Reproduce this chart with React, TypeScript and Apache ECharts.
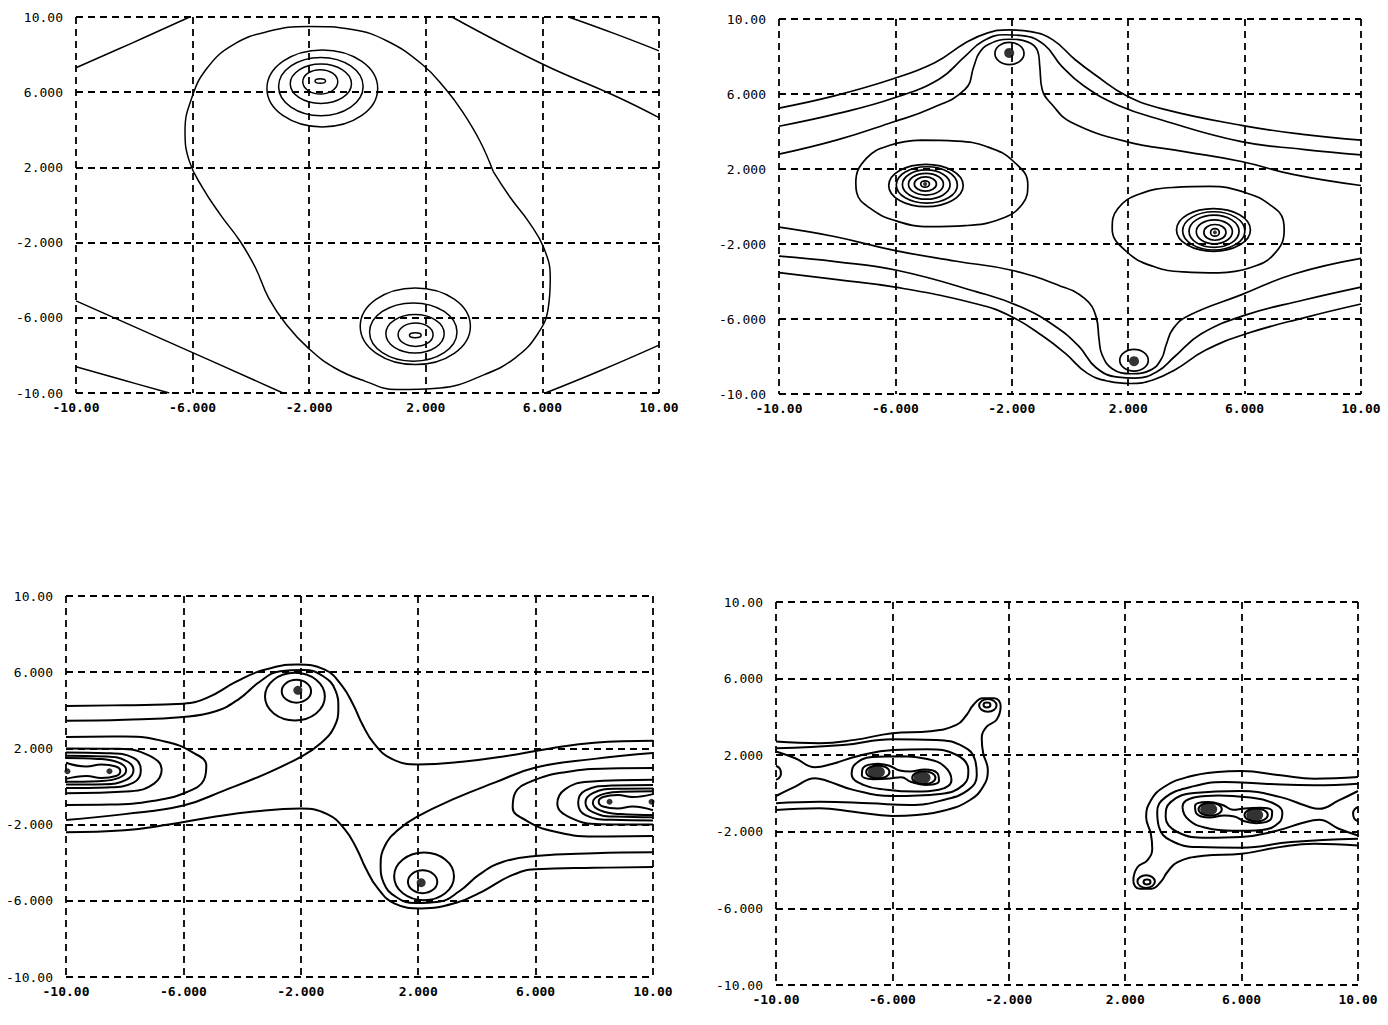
import React, { useEffect, useRef } from "react";
import * as echarts from "echarts";

// ---------- axis ticks ----------
const tickValues = [-10, -6, -2, 2, 6, 10];
const tickLabels = ["-10.00", "-6.000", "-2.000", "2.000", "6.000", "10.00"];

// ---------- panel 1 ----------
const p1TopLeft = [[-10, 7.3], [-8.1, 8.6], [-6.1, 10]];
const p1TopRightA = [[2.9, 10], [6, 7.5], [8.5, 5.8], [10, 4.65]];
const p1TopRightB = [[6.9, 10], [8.5, 9.1], [10, 8.2]];
const p1BottomLeftA = [[-10, -5.1], [-6, -7.85], [-2.9, -10]];
const p1BottomLeftB = [[-10, -8.6], [-8.3, -9.35], [-6.8, -10]];
const p1BottomRight = [[6.1, -10], [8, -8.8], [10, -7.45]];
const p1Peanut = [
  [4.31, 1.79], [4.91, 0.37], [5.52, -0.87], [6.05, -2.29], [6.27, -3.88], [6.2, -5.48],
  [5.82, -6.9], [5.06, -8.14], [4.01, -9.02], [2.5, -9.73], [0.99, -9.82], [-0.07, -9.38],
  [-1.12, -8.67], [-2.03, -7.61], [-2.78, -6.37], [-3.39, -4.95], [-3.84, -3.35], [-4.37, -1.93],
  [-5.05, -0.51], [-5.65, 0.9], [-6.11, 2.32], [-6.26, 3.92], [-6.03, 5.69], [-5.5, 7.29],
  [-4.6, 8.53], [-3.39, 9.24], [-2.03, 9.5], [-0.52, 9.33], [0.69, 8.71], [1.89, 7.46],
  [2.65, 6.22], [3.25, 4.98], [3.86, 3.39], [4.31, 1.79],
];
// rings: [cx, cy, rx, ry]
const p1Rings = [
  [-1.62, 6.6, 0.18, 0.12], [-1.62, 6.55, 0.6, 0.65], [-1.6, 6.45, 1.05, 1.05],
  [-1.6, 6.3, 1.45, 1.55], [-1.55, 6.2, 1.9, 2.05],
  [1.64, -6.93, 0.2, 0.13], [1.65, -6.9, 0.6, 0.62], [1.63, -6.85, 1.0, 1.02],
  [1.57, -6.76, 1.5, 1.55], [1.64, -6.45, 1.89, 2.04],
];

// ---------- panel 2 ----------
const p2TopA = [[-10, 5.25], [-8.1, 5.9], [-6.1, 6.8], [-4.65, 7.67], [-3.6, 8.72], [-2.85, 9.25], [-2.1, 9.42], [-1.35, 9.33], [-0.6, 8.9], [0.17, 7.84], [0.92, 6.96], [1.94, 5.91], [3.18, 5.21], [5.89, 4.33], [8, 3.85], [10, 3.54]];
const p2TopB = [[-10, 4.28], [-8, 4.95], [-6.08, 5.77], [-4.5, 6.79], [-3.6, 8.02], [-3.0, 8.81], [-2.24, 9.16], [-1.64, 9.11], [-0.89, 8.63], [-0.29, 7.49], [0.47, 6.44], [1.67, 5.39], [3.18, 4.6], [5.89, 3.46], [8, 3.05], [10, 2.75]];
const p2TopC = [[-10, 2.79], [-8, 3.55], [-6.08, 4.51], [-4.8, 5.21], [-3.6, 6.26], [-3.3, 7.49], [-3.12, 8.19], [-2.77, 8.67], [-2.09, 8.92], [-1.46, 8.78], [-1.11, 8.28], [-1.04, 7.49], [-0.96, 6.26], [-0.59, 5.39], [0.02, 4.51], [1.94, 3.46], [3.93, 2.93], [5.89, 2.4], [7.7, 1.7], [10, 1.12]];
const p2BottomA = [[-10, -1.1], [-8.1, -1.6], [-6, -2.35], [-3.9, -2.92], [-2, -3.4], [-0.4, -4.2], [0.5, -4.9], [0.9, -5.9], [1.0, -7.1], [1.1, -7.9], [1.45, -8.65], [2.1, -8.92], [2.8, -8.7], [3.15, -8.1], [3.3, -7.4], [3.55, -6.5], [4.1, -5.8], [5.9, -4.7], [7.7, -3.6], [10, -2.77]];
const p2BottomB = [[-10, -2.65], [-8, -2.95], [-5.95, -3.4], [-3.2, -4.55], [-1.7, -5.35], [-0.5, -6.4], [0.3, -7.45], [0.9, -8.6], [1.65, -9.1], [2.25, -9.15], [3.0, -8.8], [3.6, -8.0], [4.5, -6.8], [6.05, -5.78], [8, -5.0], [10, -4.3]];
const p2BottomC = [[-10, -3.53], [-8, -3.9], [-6, -4.3], [-3.2, -5.2], [-2, -5.88], [-0.9, -6.95], [-0.15, -7.85], [0.6, -8.9], [1.35, -9.33], [2.1, -9.44], [2.85, -9.25], [3.6, -8.72], [4.65, -7.67], [6.05, -6.79], [8.1, -5.91], [10, -5.2]];
const p2LeftOval = [[-5.11, 3.54], [-3.9, 3.49], [-2.85, 3.19], [-1.94, 2.4], [-1.45, 1.18], [-1.64, 0.12], [-2.39, -0.67], [-3.6, -1.02], [-4.8, -1.07], [-6.01, -0.75], [-6.91, -0.05], [-7.33, 0.74], [-7.36, 1.26], [-6.99, 2.58], [-6.16, 3.28], [-5.11, 3.54]];
const p2RightOval = [[5.11, -3.54], [3.9, -3.49], [2.85, -3.19], [1.94, -2.4], [1.45, -1.18], [1.64, -0.12], [2.39, 0.67], [3.6, 1.02], [4.8, 1.07], [6.01, 0.75], [6.91, 0.05], [7.33, -0.74], [7.36, -1.26], [6.99, -2.58], [6.16, -3.28], [5.11, -3.54]];
const p2Rings = [
  [-4.98, 1.2, 0.15, 0.17], [-4.97, 1.2, 0.38, 0.38], [-4.95, 1.19, 0.6, 0.58], [-4.94, 1.17, 0.82, 0.78], [-4.92, 1.15, 1.05, 0.97], [-4.95, 1.12, 1.28, 1.13],
  [4.98, -1.38, 0.15, 0.2], [4.98, -1.38, 0.38, 0.42], [4.96, -1.35, 0.62, 0.64], [4.95, -1.32, 0.86, 0.86], [4.94, -1.3, 1.07, 1.02], [4.93, -1.25, 1.27, 1.14],
  [-2.08, 8.16, 0.5, 0.59], [2.2, -8.2, 0.49, 0.58],
];
const p2BigDots = [[-2.09, 8.19], [2.2, -8.25]];
const p2SmallDots = [[-4.98, 1.2], [4.98, -1.38]];

// ---------- panel 3 ----------
const p3A = [[-10, 4.23], [-8, 4.27], [-6, 4.35], [-5.2, 4.65], [-4.2, 5.5], [-3.3, 6.1], [-2.1, 6.4], [-1.2, 6.15], [-0.6, 5.3], [-0.2, 4.25], [0.1, 3.25], [0.5, 2.25], [1.1, 1.45], [2.0, 1.16], [3.5, 1.3], [5, 1.6], [6.5, 2.0], [8, 2.3], [10, 2.4]];
const p3A2 = [[10, -4.23], [8, -4.27], [6, -4.35], [5.2, -4.65], [4.2, -5.5], [3.3, -6.1], [2.1, -6.4], [1.2, -6.15], [0.6, -5.3], [0.2, -4.25], [-0.1, -3.25], [-0.5, -2.25], [-1.1, -1.45], [-2.0, -1.16], [-3.5, -1.3], [-5, -1.6], [-6.5, -2.0], [-8, -2.3], [-10, -2.4]];
const p3B = [[-10, 3.45], [-8, 3.5], [-6, 3.65], [-4.9, 3.95], [-4.1, 4.6], [-3.4, 5.5], [-2.7, 6.05], [-1.9, 6.12], [-1.25, 5.8], [-0.82, 5.05], [-0.72, 4.1], [-0.87, 3.1], [-1.3, 2.3], [-1.95, 1.6], [-3.3, 0.6], [-4.6, -0.2], [-6, -1.0], [-8, -1.45], [-10, -1.76]];
const p3B2 = [[10, -3.45], [8, -3.5], [6, -3.65], [4.9, -3.95], [4.1, -4.6], [3.4, -5.5], [2.7, -6.05], [1.9, -6.12], [1.25, -5.8], [0.82, -5.05], [0.72, -4.1], [0.87, -3.1], [1.3, -2.3], [1.95, -1.6], [3.3, -0.6], [4.6, 0.2], [6, 1.0], [8, 1.45], [10, 1.76]];
const p3U1 = [[-10, 2.6], [-8, 2.62], [-6.6, 2.35], [-5.7, 1.8], [-5.22, 1.1], [-5.3, 0.35], [-5.9, -0.3], [-7, -0.75], [-8.5, -0.95], [-10, -0.97]];
const p3U2 = [[-10, 2.0], [-8.2, 1.98], [-7.2, 1.65], [-6.74, 0.9], [-7.0, 0.15], [-7.8, -0.25], [-10, -0.35]];
const p3U3 = [[-10, 1.78], [-8.6, 1.75], [-7.7, 1.5], [-7.45, 0.85], [-7.7, 0.2], [-8.6, -0.05], [-10, -0.08]];
const p3U4 = [[-10, 1.62], [-8.7, 1.58], [-7.95, 1.35], [-7.7, 0.85], [-7.95, 0.35], [-8.7, 0.12], [-10, 0.1]];
const p3U5 = [[-10, 1.5], [-8.9, 1.45], [-8.2, 1.25], [-7.95, 0.85], [-8.2, 0.45], [-8.9, 0.28], [-10, 0.25]];
const p3U6 = [[-10, 1.25], [-9.3, 1.05], [-8.8, 1.15], [-8.3, 1.05], [-8.15, 0.8], [-8.3, 0.55], [-8.8, 0.45], [-9.3, 0.55], [-10, 0.4]];
const p3V1 = [[10, -2.6], [8, -2.62], [6.6, -2.35], [5.7, -1.8], [5.22, -1.1], [5.3, -0.35], [5.9, 0.3], [7, 0.75], [8.5, 0.95], [10, 0.97]];
const p3V2 = [[10, -2.0], [8.2, -1.98], [7.2, -1.65], [6.74, -0.9], [7.0, -0.15], [7.8, 0.25], [10, 0.35]];
const p3V3 = [[10, -1.78], [8.6, -1.75], [7.7, -1.5], [7.45, -0.85], [7.7, -0.2], [8.6, 0.05], [10, 0.08]];
const p3V4 = [[10, -1.62], [8.7, -1.58], [7.95, -1.35], [7.7, -0.85], [7.95, -0.35], [8.7, -0.12], [10, -0.1]];
const p3V5 = [[10, -1.5], [8.9, -1.45], [8.2, -1.25], [7.95, -0.85], [8.2, -0.45], [8.9, -0.28], [10, -0.25]];
const p3V6 = [[10, -1.25], [9.3, -1.05], [8.8, -1.15], [8.3, -1.05], [8.15, -0.8], [8.3, -0.55], [8.8, -0.45], [9.3, -0.55], [10, -0.4]];
const p3Rings = [
  [-2.15, 5.0, 0.5, 0.6], [-2.2, 4.72, 1.02, 1.25],
  [2.15, -5.0, 0.5, 0.6], [2.2, -4.72, 1.02, 1.25],
];
const p3BigDots = [[-2.1, 5.05], [2.1, -5.05]];
const p3SmallDots = [[-8.52, 0.8], [-9.95, 0.8], [8.52, -0.8], [9.95, -0.8]];

// ---------- panel 4 ----------
const p4S = [[-10, 2.71], [-8.5, 2.62], [-7.3, 2.8], [-6, 3.15], [-4.7, 3.25], [-3.8, 3.58], [-3.45, 4.1], [-3.22, 4.62], [-2.9, 4.97], [-2.5, 4.98], [-2.28, 4.55], [-2.42, 3.85], [-2.76, 3.49], [-2.93, 2.88], [-2.88, 2.1], [-2.72, 1.23], [-2.88, 0.36], [-3.33, -0.34], [-4.14, -0.86], [-5.17, -1.12], [-6, -1.17], [-7.34, -0.95], [-8.5, -0.77], [-10, -0.86]];
const p4S2 = [[-10, 2.36], [-7.7, 2.53], [-6, 2.83], [-4.5, 2.8], [-3.56, 2.45], [-3.16, 1.75], [-3.1, 0.97], [-3.39, 0.19], [-4.25, -0.34], [-5.4, -0.6], [-6.77, -0.51], [-8.5, -0.43], [-10, -0.51]];
const p4F = [[-10, 2.19], [-9.34, 1.84], [-8.66, 1.37], [-8.08, 1.54], [-7.17, 1.96], [-5.97, 2.27], [-4.82, 2.31], [-3.79, 2.01], [-3.39, 1.23], [-3.56, 0.45], [-4.36, -0.02], [-5.97, -0.13], [-7.34, 0.19], [-8.26, 0.67], [-8.66, 0.8], [-9.34, 0.36], [-10, -0.13]];
const p4O = [[-5.7, 1.95], [-6.7, 1.9], [-7.3, 1.5], [-7.4, 1.0], [-7.0, 0.45], [-6.2, 0.2], [-5.2, 0.1], [-4.4, 0.2], [-3.97, 0.7], [-4.2, 1.4], [-4.8, 1.8], [-5.7, 1.95]];
const p4P = [[-6.5, 1.55], [-7.0, 1.35], [-7.05, 0.95], [-6.65, 0.75], [-6.1, 0.78], [-5.7, 0.85], [-5.35, 0.6], [-4.85, 0.45], [-4.4, 0.65], [-4.45, 1.05], [-4.9, 1.25], [-5.4, 1.15], [-5.75, 1.2], [-6.1, 1.45], [-6.5, 1.55]];
const p4E = [[-10, 1.45], [-9.87, 1.3], [-9.83, 1.02], [-9.9, 0.8], [-10, 0.72]];
const p4SR = [[10, -2.71], [8.5, -2.62], [7.3, -2.8], [6, -3.15], [4.7, -3.25], [3.8, -3.58], [3.45, -4.1], [3.22, -4.62], [2.9, -4.97], [2.5, -4.98], [2.28, -4.55], [2.42, -3.85], [2.76, -3.49], [2.93, -2.88], [2.88, -2.1], [2.72, -1.23], [2.88, -0.36], [3.33, 0.34], [4.14, 0.86], [5.17, 1.12], [6, 1.17], [7.34, 0.95], [8.5, 0.77], [10, 0.86]];
const p4S2R = [[10, -2.36], [7.7, -2.53], [6, -2.83], [4.5, -2.8], [3.56, -2.45], [3.16, -1.75], [3.1, -0.97], [3.39, -0.19], [4.25, 0.34], [5.4, 0.6], [6.77, 0.51], [8.5, 0.43], [10, 0.51]];
const p4FR = [[10, -2.19], [9.34, -1.84], [8.66, -1.37], [8.08, -1.54], [7.17, -1.96], [5.97, -2.27], [4.82, -2.31], [3.79, -2.01], [3.39, -1.23], [3.56, -0.45], [4.36, 0.02], [5.97, 0.13], [7.34, -0.19], [8.26, -0.67], [8.66, -0.8], [9.34, -0.36], [10, 0.13]];
const p4OR = [[5.7, -1.95], [6.7, -1.9], [7.3, -1.5], [7.4, -1.0], [7.0, -0.45], [6.2, -0.2], [5.2, -0.1], [4.4, -0.2], [3.97, -0.7], [4.2, -1.4], [4.8, -1.8], [5.7, -1.95]];
const p4PR = [[6.5, -1.55], [7.0, -1.35], [7.05, -0.95], [6.65, -0.75], [6.1, -0.78], [5.7, -0.85], [5.35, -0.6], [4.85, -0.45], [4.4, -0.65], [4.45, -1.05], [4.9, -1.25], [5.4, -1.15], [5.75, -1.2], [6.1, -1.45], [6.5, -1.55]];
const p4ER = [[10, -1.45], [9.87, -1.3], [9.83, -1.02], [9.9, -0.8], [10, -0.72]];
const p4Rings = [
  [-2.75, 4.62, 0.12, 0.13], [-2.72, 4.6, 0.3, 0.33],
  [2.75, -4.62, 0.12, 0.13], [2.72, -4.6, 0.3, 0.33],
  [-6.5, 1.12, 0.4, 0.34], [-4.92, 0.82, 0.4, 0.34],
  [6.5, -1.12, 0.4, 0.34], [4.92, -0.82, 0.4, 0.34],
];
const p4Blobs = [[-6.55, 1.12], [-4.98, 0.82], [6.45, -1.12], [4.87, -0.82]];

// ---------- layout ----------
const panelLayout = [
  { left: 76, top: 17, width: 583, height: 376 },
  { left: 779, top: 19, width: 582, height: 375 },
  { left: 66, top: 596, width: 587, height: 381 },
  { left: 776, top: 602, width: 582, height: 383 },
];

const FONT = '"DejaVu Sans Mono", "Liberation Mono", monospace';

export default function App() {
  const ref = useRef<HTMLDivElement>(null);

  useEffect(() => {
    if (!ref.current) return;
    const chart = echarts.init(ref.current, null, { renderer: "svg" });

    const panels = [
      {
        width: 1.5,
        lines: [p1TopLeft, p1TopRightA, p1TopRightB, p1BottomLeftA, p1BottomLeftB, p1BottomRight, p1Peanut],
        rings: p1Rings,
        dots: [] as { data: number[][]; size: any }[],
      },
      {
        width: 1.7,
        lines: [p2TopA, p2TopB, p2TopC, p2BottomA, p2BottomB, p2BottomC, p2LeftOval, p2RightOval],
        rings: p2Rings,
        dots: [
          { data: p2BigDots, size: 10 },
          { data: p2SmallDots, size: 4 },
        ],
      },
      {
        width: 2,
        lines: [p3A, p3A2, p3B, p3B2, p3U1, p3U2, p3U3, p3U4, p3U5, p3U6, p3V1, p3V2, p3V3, p3V4, p3V5, p3V6],
        rings: p3Rings,
        dots: [
          { data: p3BigDots, size: 9 },
          { data: p3SmallDots, size: 6 },
        ],
      },
      {
        width: 2,
        lines: [p4S, p4S2, p4F, p4O, p4P, p4E, p4SR, p4S2R, p4FR, p4OR, p4PR, p4ER],
        rings: p4Rings,
        dots: [{ data: p4Blobs, size: [17, 13] }],
      },
    ];

    const labelFor = (v: number) => {
      const i = tickValues.findIndex((t) => Math.abs(t - v) < 1e-6);
      return i >= 0 ? tickLabels[i] : "";
    };

    const gridLine = { show: true, lineStyle: { color: "#000", width: 1.8, type: [7, 5] as any } };

    const grid: any[] = [];
    const xAxis: any[] = [];
    const yAxis: any[] = [];
    const series: any[] = [];

    panels.forEach((p, i) => {
      grid.push({ ...panelLayout[i], containLabel: false });
      xAxis.push({
        gridIndex: i,
        type: "value",
        min: -10,
        max: 10,
        axisLine: { show: false },
        axisTick: { show: false, customValues: tickValues },
        axisLabel: {
          customValues: tickValues,
          formatter: labelFor,
          fontFamily: FONT,
          fontWeight: "bold",
          fontSize: 13,
          color: "#000",
          margin: 8,
        },
        splitLine: gridLine,
      });
      yAxis.push({
        gridIndex: i,
        type: "value",
        min: -10,
        max: 10,
        axisLine: { show: false },
        axisTick: { show: false, customValues: tickValues },
        axisLabel: {
          customValues: tickValues,
          formatter: labelFor,
          fontFamily: FONT,
          fontSize: 13,
          color: "#000",
          margin: 13,
        },
        splitLine: gridLine,
      });
      p.lines.forEach((d) => {
        series.push({
          type: "line",
          xAxisIndex: i,
          yAxisIndex: i,
          data: d,
          smooth: 0.45,
          symbol: "none",
          silent: true,
          lineStyle: { color: "#000", width: p.width },
        });
      });
      series.push({
        type: "custom",
        xAxisIndex: i,
        yAxisIndex: i,
        data: p.rings,
        clip: true,
        silent: true,
        renderItem: (_params: any, api: any) => {
          const c = api.coord([api.value(0), api.value(1)]);
          const s = api.size([api.value(2), api.value(3)]);
          return {
            type: "ellipse",
            shape: { cx: c[0], cy: c[1], rx: s[0], ry: s[1] },
            style: { fill: "none", stroke: "#000", lineWidth: p.width },
          };
        },
      });
      p.dots.forEach((dd) => {
        series.push({
          type: "scatter",
          xAxisIndex: i,
          yAxisIndex: i,
          data: dd.data,
          symbol: "circle",
          symbolSize: dd.size,
          silent: true,
          itemStyle: { color: "#000" },
        });
      });
    });

    chart.setOption({
      animation: false,
      backgroundColor: "#fff",
      grid,
      xAxis,
      yAxis,
      series,
    });

    return () => chart.dispose();
  }, []);

  return (
    <div
      ref={ref}
      style={{ position: "absolute", left: 0, top: 0, width: 1388, height: 1025, background: "#fff" }}
    />
  );
}
